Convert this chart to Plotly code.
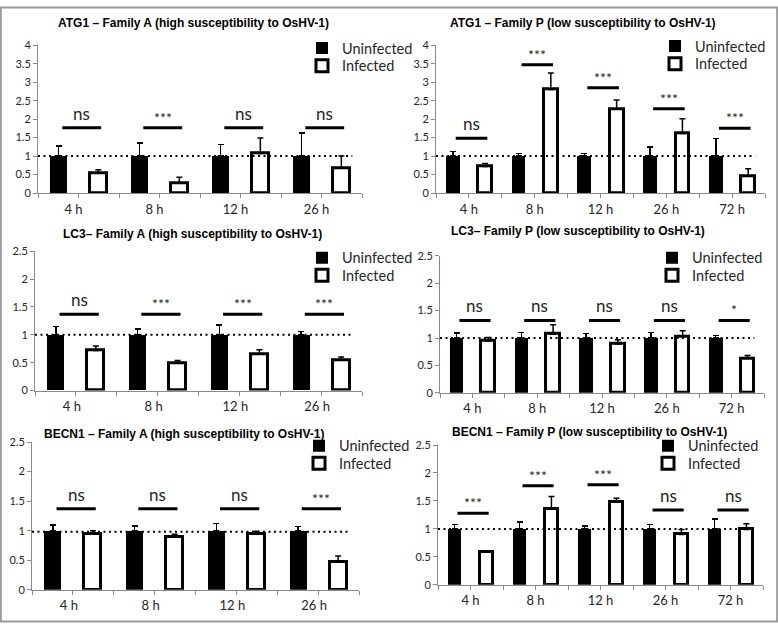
import plotly.graph_objects as go

W, H = 778, 628

# ---- data ----
times_A = ["4 h", "8 h", "12 h", "26 h"]
times_P = ["4 h", "8 h", "12 h", "26 h", "72 h"]

atg1_A_uninf = [1, 1, 1, 1]
atg1_A_uninf_err = [0.27, 0.36, 0.31, 0.63]
atg1_A_inf = [0.55, 0.28, 1.07, 0.68]
atg1_A_inf_err = [0.08, 0.15, 0.42, 0.32]
atg1_A_sig = ["ns", "***", "ns", "ns"]
atg1_A_sig_y = [1.77, 1.77, 1.77, 1.77]

atg1_P_uninf = [1, 1, 1, 1, 1]
atg1_P_uninf_err = [0.12, 0.07, 0.07, 0.25, 0.47]
atg1_P_inf = [0.72, 2.80, 2.28, 1.61, 0.46]
atg1_P_inf_err = [0.08, 0.45, 0.24, 0.40, 0.20]
atg1_P_sig = ["ns", "***", "***", "***", "***"]
atg1_P_sig_y = [1.48, 3.47, 2.85, 2.28, 1.75]

lc3_A_uninf = [1, 1, 1, 1]
lc3_A_uninf_err = [0.15, 0.10, 0.18, 0.06]
lc3_A_inf = [0.72, 0.49, 0.65, 0.55]
lc3_A_inf_err = [0.08, 0.05, 0.08, 0.05]
lc3_A_sig = ["ns", "***", "***", "***"]
lc3_A_sig_y = [1.37, 1.37, 1.37, 1.37]

lc3_P_uninf = [1, 1, 1, 1, 1]
lc3_P_uninf_err = [0.09, 0.10, 0.08, 0.10, 0.05]
lc3_P_inf = [0.95, 1.07, 0.89, 1.03, 0.63]
lc3_P_inf_err = [0.06, 0.17, 0.08, 0.10, 0.05]
lc3_P_sig = ["ns", "ns", "ns", "ns", "*"]
lc3_P_sig_y = [1.32, 1.32, 1.32, 1.32, 1.32]

becn1_A_uninf = [1, 1, 1, 1]
becn1_A_uninf_err = [0.10, 0.08, 0.12, 0.07]
becn1_A_inf = [0.94, 0.89, 0.94, 0.47]
becn1_A_inf_err = [0.06, 0.05, 0.05, 0.10]
becn1_A_sig = ["ns", "ns", "ns", "***"]
becn1_A_sig_y = [1.37, 1.37, 1.37, 1.37]

becn1_P_uninf = [1, 1, 1, 1, 1]
becn1_P_uninf_err = [0.08, 0.12, 0.05, 0.08, 0.18]
becn1_P_inf = [0.58, 1.36, 1.48, 0.90, 0.99]
becn1_P_inf_err = [0.03, 0.22, 0.07, 0.09, 0.10]
becn1_P_sig = ["***", "***", "***", "ns", "ns"]
becn1_P_sig_y = [1.28, 1.77, 1.79, 1.34, 1.34]

# reference level (dotted line)
ref_levels = [1, 1, 1, 1, 0.98, 1]

# ---- panel layout (pixels) ----
# lpos = (x where the legend text starts, y of row 1, y of row 2)
panels = [
    dict(title="ATG1 – Family A (high susceptibility to OsHV-1)", cats=times_A,
         u=atg1_A_uninf, ue=atg1_A_uninf_err, i=atg1_A_inf, ie=atg1_A_inf_err,
         sig=atg1_A_sig, sy=atg1_A_sig_y, ymax=4,
         xpx=(38, 362), ypx=(190, 39), tpos=(193, 16), lpos=(340, 42, 60), shift=-5),
    dict(title="ATG1 – Family P (low susceptibility to OsHV-1)", cats=times_P,
         u=atg1_P_uninf, ue=atg1_P_uninf_err, i=atg1_P_inf, ie=atg1_P_inf_err,
         sig=atg1_P_sig, sy=atg1_P_sig_y, ymax=4,
         xpx=(436, 765), ypx=(190, 39), tpos=(583, 16), lpos=(693, 40, 58), shift=0),
    dict(title="LC3– Family A (high susceptibility to OsHV-1)", cats=times_A,
         u=lc3_A_uninf, ue=lc3_A_uninf_err, i=lc3_A_inf, ie=lc3_A_inf_err,
         sig=lc3_A_sig, sy=lc3_A_sig_y, ymax=2.5,
         xpx=(35, 362), ypx=(391.7, 249.3), tpos=(192, 232), lpos=(340, 256, 274), shift=-4),
    dict(title="LC3– Family P (low susceptibility to OsHV-1)", cats=times_P,
         u=lc3_P_uninf, ue=lc3_P_uninf_err, i=lc3_P_inf, ie=lc3_P_inf_err,
         sig=lc3_P_sig, sy=lc3_P_sig_y, ymax=2.5,
         xpx=(440, 764), ypx=(394, 254), tpos=(578, 229), lpos=(690, 256, 274), shift=0),
    dict(title="BECN1 – Family A (high susceptibility to OsHV-1)", cats=times_A,
         u=becn1_A_uninf, ue=becn1_A_uninf_err, i=becn1_A_inf, ie=becn1_A_inf_err,
         sig=becn1_A_sig, sy=becn1_A_sig_y, ymax=2.5,
         xpx=(32, 359), ypx=(595, 444.3), tpos=(184, 436), lpos=(337, 448, 466), shift=-4),
    dict(title="BECN1 – Family P (low susceptibility to OsHV-1)", cats=times_P,
         u=becn1_P_uninf, ue=becn1_P_uninf_err, i=becn1_P_inf, ie=becn1_P_inf_err,
         sig=becn1_P_sig, sy=becn1_P_sig_y, ymax=2.5,
         xpx=(438, 763), ypx=(590, 447.3), tpos=(589, 434), lpos=(686, 448, 466), shift=0),
]

AXIS_GREY = "#8a8a8a"
TEXT = "#262626"
BODY_FONT = "Lato, Open Sans, sans-serif"


def px_x(v):
    return v / W


def px_y(v):
    return 1 - v / H


fig = go.Figure()
layout = dict(
    width=W, height=H, autosize=False,
    margin=dict(l=0, r=0, t=0, b=0),
    paper_bgcolor="white", plot_bgcolor="white",
    bargap=0, barmode="overlay", showlegend=True,
    font=dict(family=BODY_FONT, color=TEXT),
)
shapes = []
annotations = []

for k, p in enumerate(panels, start=1):
    sx = "" if k == 1 else str(k)
    xref, yref = "x" + sx, "y" + sx
    xs = list(range(len(p["cats"])))
    leg_u = "legend" if k == 1 else "legend%d" % (2 * k - 1)
    leg_i = "legend%d" % (2 * k)

    fig.add_trace(go.Bar(
        x=xs, y=p["u"], name="Uninfected", xaxis=xref, yaxis=yref,
        offset=-0.35, width=0.21, showlegend=True,
        marker=dict(color="black", line=dict(width=0)),
        error_y=dict(type="data", array=p["ue"], arrayminus=[0] * len(xs),
                     symmetric=False, color="black", thickness=1.5, width=3),
        legend=leg_u,
    ))
    fig.add_trace(go.Bar(
        x=xs, y=p["i"], name="Infected", xaxis=xref, yaxis=yref,
        offset=0.14, width=0.21, showlegend=True,
        marker=dict(color="white", line=dict(color="black", width=3)),
        error_y=dict(type="data", array=p["ie"], arrayminus=[0] * len(xs),
                     symmetric=False, color="black", thickness=1.5, width=3),
        legend=leg_i,
    ))

    # axes
    x0, x1 = p["xpx"]
    yb, yt = p["ypx"]
    layout["xaxis" + sx] = dict(
        domain=[px_x(x0), px_x(x1)], anchor=yref, range=[-0.5, len(xs) - 0.5],
        tickvals=xs, ticktext=p["cats"], ticks="outside", ticklen=4,
        tickcolor=AXIS_GREY, showline=True, linecolor=AXIS_GREY, linewidth=1,
        showgrid=False, zeroline=False, ticklabelshift=p["shift"],
        tickfont=dict(size=13, color=TEXT),
        minor=dict(ticks="outside", ticklen=4, tickcolor=AXIS_GREY,
                   tick0=0.5, dtick=1, showgrid=False),
    )
    layout["yaxis" + sx] = dict(
        domain=[px_y(yb), px_y(yt)], anchor=xref, range=[0, p["ymax"]],
        dtick=0.5, ticks="outside", ticklen=4, tickcolor=AXIS_GREY,
        showline=True, linecolor=AXIS_GREY, linewidth=1,
        showgrid=False, zeroline=False, tickfont=dict(size=11, color=TEXT),
    )

    # dotted reference line
    shapes.append(dict(type="line", xref=xref + " domain", yref=yref,
                       x0=0, x1=0.97, y0=ref_levels[k - 1], y1=ref_levels[k - 1],
                       line=dict(color="black", width=2, dash="2px,3.5px")))

    # significance bars
    for j, (lab, yv) in enumerate(zip(p["sig"], p["sy"])):
        shapes.append(dict(type="line", xref=xref, yref=yref,
                           x0=j - 0.2, x1=j + 0.28, y0=yv, y1=yv,
                           line=dict(color="black", width=3)))
        is_ns = lab == "ns"
        annotations.append(dict(
            x=j + 0.04, y=yv, xref=xref, yref=yref, text=lab, showarrow=False,
            yanchor="bottom", yshift=2 if is_ns else 0,
            font=dict(size=17 if is_ns else 14, color=TEXT, family=BODY_FONT),
        ))

    # panel title
    annotations.append(dict(
        x=px_x(p["tpos"][0]), y=px_y(p["tpos"][1]), xref="paper", yref="paper",
        text="<b>%s</b>" % p["title"], showarrow=False,
        xanchor="center", yanchor="middle",
        font=dict(family="Liberation Sans, Arial, sans-serif", size=12, color="black"),
    ))

    # legends (one per series so the rows sit where they do in the original)
    tx, ly1, ly2 = p["lpos"]
    for name, ly in ((leg_u, ly1), (leg_i, ly2)):
        layout[name] = dict(
            x=px_x(tx - 38), y=px_y(ly), xanchor="left", yanchor="middle",
            bgcolor="rgba(0,0,0,0)", borderwidth=0,
            font=dict(size=14.5, color=TEXT, family=BODY_FONT),
        )

# outer frame
shapes.append(dict(type="rect", xref="paper", yref="paper",
                   x0=0.001, x1=0.999, y0=0.001, y1=0.999,
                   line=dict(color="#9a9a9a", width=2)))

layout["shapes"] = shapes
layout["annotations"] = annotations
fig.update_layout(**layout)

# pin the graph to the top-left corner of the page (no body margin)
pin = ("document.body.style.margin='0';"
       "var gd=document.getElementById('{plot_id}');"
       "gd.style.position='absolute';gd.style.left='0px';gd.style.top='0px';")
fig.write_html("out.html", post_script=pin, config={"displayModeBar": False})
